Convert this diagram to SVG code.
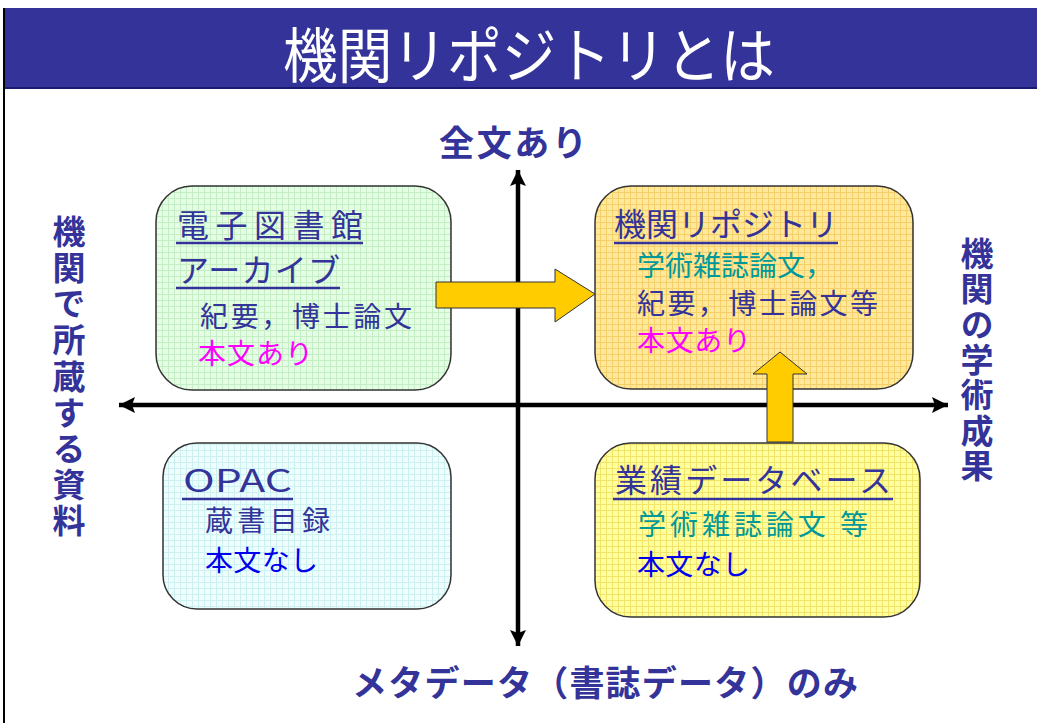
<svg xmlns="http://www.w3.org/2000/svg" width="1037" height="723" viewBox="0 0 1037 723">
<defs>
<pattern id="pg" width="6" height="6" patternUnits="userSpaceOnUse"><rect width="6" height="6" fill="#e4fde4"/><path d="M0 0.5H6M0.5 0V6" stroke="#c4efc4" stroke-width="1"/></pattern>
<pattern id="po" width="6" height="6" patternUnits="userSpaceOnUse"><rect width="6" height="6" fill="#ffe89a"/><path d="M0 0.5H6M0.5 0V6" stroke="#f5cf6a" stroke-width="1"/></pattern>
<pattern id="pc" width="6" height="6" patternUnits="userSpaceOnUse"><rect width="6" height="6" fill="#eefefe"/><path d="M0 0.5H6M0.5 0V6" stroke="#cdf1f1" stroke-width="1"/></pattern>
<pattern id="py" width="6" height="6" patternUnits="userSpaceOnUse"><rect width="6" height="6" fill="#ffff9e"/><path d="M0 0.5H6M0.5 0V6" stroke="#f2e46a" stroke-width="1"/></pattern>
<marker id="ah" viewBox="0 0 16 16" refX="16" refY="8" markerWidth="16" markerHeight="16" markerUnits="userSpaceOnUse" orient="auto-start-reverse"><path d="M0 0L16 8L0 16L3 8Z" fill="#000"/></marker>
</defs>
<style>
text{font-family:"Noto Sans CJK JP","Liberation Sans",sans-serif;}
.box{stroke:#333;stroke-width:1.5;}
.h{fill:#333399;font-size:32px;}
.ul{stroke:#333399;stroke-width:2.5;}
.d{fill:#333399;font-size:28px;}
.t{fill:#009999;font-size:28px;}
.m{fill:#ff00ff;font-size:28px;}
.b{fill:#0000ee;font-size:28px;}
.lab{fill:#333399;font-size:35px;font-weight:bold;}
.vlab{fill:#333399;font-size:33px;font-weight:bold;writing-mode:vertical-rl;}
.axis{stroke:#000;stroke-width:4.5;fill:none;}
.blk{fill:#ffcc00;stroke:#333;stroke-width:1;}
</style>
<rect width="1037" height="723" fill="#fff"/>
<g id="title">
<rect x="3" y="8" width="1034" height="80" fill="#333399"/>
<line x1="3" y1="88" x2="1037" y2="88" stroke="#1a1a70" stroke-width="2"/>
<line x1="4" y1="8" x2="4" y2="723" stroke="#000" stroke-width="2"/>
<text x="283" y="78" font-size="60" fill="#fff" textLength="492" lengthAdjust="spacingAndGlyphs">機関リポジトリとは</text>
</g>
<g id="node-denshi">
<rect class="box" x="156" y="186" width="295" height="204" rx="36" fill="url(#pg)"/>
<text class="h" x="177" y="237" textLength="186">電子図書館</text>
<line class="ul" x1="176" y1="243" x2="363" y2="243"/>
<text class="h" x="177" y="282" textLength="163">アーカイブ</text>
<line class="ul" x1="176" y1="288" x2="340" y2="288"/>
<text class="d" x="200" y="327" textLength="212">紀要，博士論文</text>
<text class="m" x="198" y="364" textLength="115">本文あり</text>
</g>
<g id="node-repo">
<rect class="box" x="595" y="186" width="318" height="203" rx="36" fill="url(#po)"/>
<text class="h" x="614" y="236" textLength="224">機関リポジトリ</text>
<line class="ul" x1="614" y1="243" x2="838" y2="243"/>
<text class="t" x="637" y="276" textLength="196">学術雑誌論文，</text>
<text class="d" x="637" y="314" textLength="241">紀要，博士論文等</text>
<text class="m" x="637" y="351" textLength="114">本文あり</text>
</g>
<g id="node-opac">
<rect class="box" x="163" y="443" width="288" height="166" rx="34" fill="url(#pc)"/>
<text x="183" y="492" font-family="Liberation Sans,sans-serif" font-size="31" fill="#333399" textLength="109" lengthAdjust="spacingAndGlyphs">OPAC</text>
<line class="ul" x1="182" y1="499" x2="293" y2="499"/>
<text class="d" x="205" y="531" textLength="125">蔵書目録</text>
<text class="b" x="205" y="571" textLength="113">本文なし</text>
</g>
<g id="node-gyoseki">
<rect class="box" x="595" y="443" width="325" height="174" rx="36" fill="url(#py)"/>
<text class="h" x="615" y="492" textLength="276">業績データベース</text>
<line class="ul" x1="613" y1="499" x2="893" y2="499"/>
<text class="t" x="638" y="535" textLength="230">学術雑誌論文 等</text>
<text class="b" x="637" y="575" textLength="113">本文なし</text>
</g>
<g id="connectors">
<line class="axis" x1="119" y1="405" x2="948" y2="405" marker-start="url(#ah)" marker-end="url(#ah)"/>
<line class="axis" x1="518" y1="646" x2="518" y2="170" marker-start="url(#ah)" marker-end="url(#ah)"/>
<path class="blk" d="M436 282H555V269L595 294L555 322V308H436Z"/>
<path class="blk" d="M767 442V374H753L780 352L807 374H793V442Z"/>
</g>
<g id="labels">
<text class="lab" x="513" y="156" text-anchor="middle" textLength="148">全文あり</text>
<text class="lab" x="352" y="696" textLength="506">メタデータ（書誌データ）のみ</text>
<text class="vlab" x="69" y="215" textLength="322">機関で所蔵する資料</text>
<text class="vlab" x="977" y="237" textLength="245">機関の学術成果</text>
</g>
</svg>
